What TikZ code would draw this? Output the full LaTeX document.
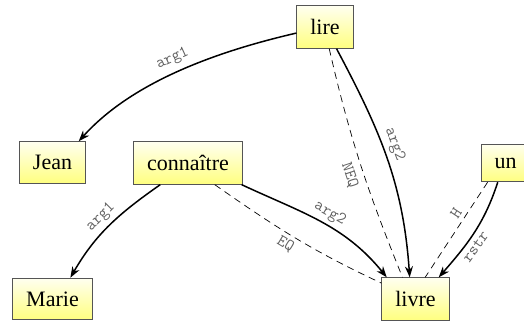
\documentclass[tikz,border=0pt]{standalone}
\usepackage{fontspec}
\setmainfont{Liberation Serif}
\usetikzlibrary{arrows.meta}
\definecolor{boxline}{HTML}{555555}
\definecolor{lblgray}{HTML}{606060}
\tikzset{
  wordbox/.style={draw=boxline, line width=0.8pt, top color=yellow!6, bottom color=yellow!50,
    inner xsep=13.5pt, inner ysep=13.5pt,
    font=\fontsize{22}{26}\selectfont},
  rel/.style={line width=1.5pt, -{Stealth[length=11pt,width=8pt,inset=3.5pt]}},
  eqrel/.style={line width=0.7pt, dash pattern=on 7pt off 5pt},
  lbl/.style={font=\ttfamily\fontsize{16.5}{18}\selectfont, text=lblgray, sloped, inner sep=4pt}
}
\begin{document}
\begin{tikzpicture}[x=1pt,y=1pt]
\useasboundingbox (0,0) rectangle (524,321);
\node[wordbox] (lire) at (325,294) {lire};
\node[wordbox] (jean) at (52.5,158.5) {Jean};
\node[wordbox] (conn) at (188,158) {connaître};
\node[wordbox] (un) at (505.5,158) {un};
\node[wordbox] (marie) at (52.5,22) {Marie};
\node[wordbox] (livre) at (415.5,22) {livre};

\draw[rel] (lire.192) to[out=193,in=48,looseness=0.85] node[lbl,above,pos=0.5,inner sep=6pt] {arg1} (jean.39);
\draw[rel] (lire.-62) to[out=-62,in=94] node[lbl,above,pos=0.45] {arg2} (livre.105);
\draw[eqrel] (lire.-79) to[out=-77,in=112] node[lbl,below,pos=0.53,inner sep=7pt] {NEQ} (livre.121);
\draw[rel] (conn.-22) to[out=-25,in=129] node[lbl,above,pos=0.52] {arg2} (livre.143);
\draw[eqrel] (conn.-39) to[out=-35,in=155] node[lbl,below,pos=0.47] {EQ} (livre.155);
\draw[rel] (conn.-142) to[out=-145,in=60] node[lbl,above,pos=0.5] {arg1} (marie.50);
\draw[rel] (un.-112) to[out=-108,in=49] node[lbl,below,pos=0.6] {rstr} (livre.43);
\draw[eqrel] (un.-133) to node[lbl,above,pos=0.38] {H} (livre.66);
\end{tikzpicture}
\end{document}
